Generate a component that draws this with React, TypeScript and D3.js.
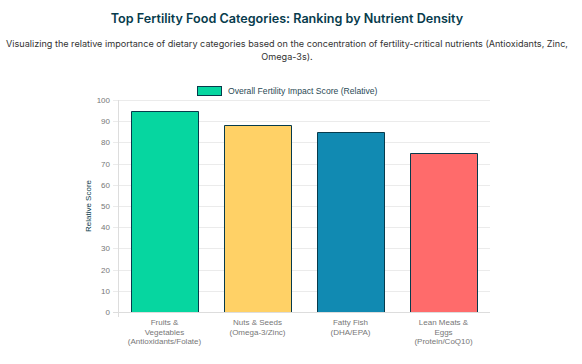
import React, { useRef, useEffect } from 'react';
import * as d3 from 'd3';

const categories: string[][] = [
    ['Fruits &', 'Vegetables', '(Antioxidants/Folate)'],
    ['Nuts & Seeds', '(Omega-3/Zinc)'],
    ['Fatty Fish', '(DHA/EPA)'],
    ['Lean Meats &', 'Eggs', '(Protein/CoQ10)'],
];
const scores = [95, 88, 85, 75];
const barColors = ['#06D6A0', '#FFD166', '#118AB2', '#FF6B6B'];
const yTicks = [0, 10, 20, 30, 40, 50, 60, 70, 80, 90, 100];
const titleText = 'Top Fertility Food Categories: Ranking by Nutrient Density';
const subtitleLines = [
    'Visualizing the relative importance of dietary categories based on the concentration of fertility-critical nutrients (Antioxidants, Zinc,',
    'Omega-3s).',
];
const legendLabel = 'Overall Fertility Impact Score (Relative)';
const yTitle = 'Relative Score';

const W = 582;
const H = 364;
const CX = 287;

export default function App() {
    const svgRef = useRef<SVGSVGElement>(null);

    useEffect(() => {
        if (!svgRef.current) return;
        const svg = d3.select(svgRef.current);
        svg.selectAll('*').remove();

        const font = 'Inter, Roboto, sans-serif';
        const small = 'Liberation Sans, Arial, sans-serif';
        const margin = { top: 100, right: 92, bottom: 52, left: 118 };
        const innerW = W - margin.left - margin.right;
        const innerH = H - margin.top - margin.bottom;

        svg.append('text')
            .attr('x', CX).attr('y', 23)
            .attr('text-anchor', 'middle')
            .attr('font-family', font).attr('font-size', 12.6).attr('font-weight', 600)
            .attr('fill', '#073B4C')
            .text(titleText);

        svg.selectAll('text.sub').data(subtitleLines).enter().append('text')
            .attr('class', 'sub')
            .attr('x', CX).attr('y', (_, i) => 47 + i * 12.5)
            .attr('text-anchor', 'middle')
            .attr('font-family', font).attr('font-size', 9.1)
            .attr('fill', '#333')
            .text(d => d);

        // legend
        const legend = svg.append('g');
        const legText = legend.append('text')
            .attr('y', 94)
            .attr('font-family', small).attr('font-size', 8.6)
            .attr('fill', '#2b4a55')
            .text(legendLabel);
        const tw = (legText.node() as SVGTextElement).getComputedTextLength();
        const boxW = 24;
        const totalW = boxW + 7 + tw;
        const lx = Math.round(CX - totalW / 2);
        legend.append('rect')
            .attr('x', lx + 0.5).attr('y', 86.5).attr('width', boxW).attr('height', 9)
            .attr('fill', barColors[0]).attr('stroke', '#073B4C').attr('stroke-width', 1);
        legText.attr('x', lx + boxW + 7);

        const g = svg.append('g').attr('transform', `translate(${margin.left},${margin.top})`);

        const x = d3.scaleBand<number>()
            .domain(d3.range(categories.length))
            .range([0, innerW]);
        const y = d3.scaleLinear().domain([0, 100]).range([innerH, 0]);

        // grid
        g.selectAll('line.grid').data(yTicks).enter().append('line')
            .attr('x1', -5).attr('x2', innerW)
            .attr('y1', d => Math.round(y(d)) + 0.5).attr('y2', d => Math.round(y(d)) + 0.5)
            .attr('stroke', d => (d === 0 ? '#ddd' : '#ebebeb')).attr('stroke-width', 1);
        g.append('line')
            .attr('x1', 0.5).attr('x2', 0.5).attr('y1', 0).attr('y2', innerH + 5)
            .attr('stroke', '#ddd');

        g.selectAll('text.ytick').data(yTicks).enter().append('text')
            .attr('x', -8).attr('y', d => y(d) + 3)
            .attr('text-anchor', 'end')
            .attr('font-family', small).attr('font-size', 8)
            .attr('fill', '#777')
            .text(d => d);

        svg.append('text')
            .attr('transform', `translate(${91},${margin.top + innerH / 2}) rotate(-90)`)
            .attr('text-anchor', 'middle')
            .attr('font-family', small).attr('font-size', 8)
            .attr('fill', '#073B4C')
            .text(yTitle);

        // bars
        const bw = x.bandwidth() * 0.72;
        g.selectAll('path.bar').data(scores).enter().append('path')
            .attr('class', 'bar')
            .attr('fill', (_, i) => barColors[i])
            .attr('stroke', '#073B4C').attr('stroke-width', 1)
            .attr('d', (d, i) => {
                const x0 = Math.round(x(i)! + (x.bandwidth() - bw) / 2) + 0.5;
                const x1 = x0 + Math.round(bw);
                const yt = Math.round(y(d)) + 0.5;
                return `M${x0},${innerH}V${yt}H${x1}V${innerH}`;
            });

        // x labels
        categories.forEach((lines, i) => {
            const t = g.append('text')
                .attr('text-anchor', 'middle')
                .attr('font-family', small).attr('font-size', 8)
                .attr('fill', '#777');
            lines.forEach((l, j) => {
                t.append('tspan')
                    .attr('x', x(i)! + x.bandwidth() / 2)
                    .attr('y', innerH + 13 + j * 9.6)
                    .text(l);
            });
        });
    }, []);

    return (
        <svg
            ref={svgRef}
            width={W}
            height={H}
            style={{ position: 'absolute', left: 0, top: 0, background: '#fff' }}
        />
    );
}
